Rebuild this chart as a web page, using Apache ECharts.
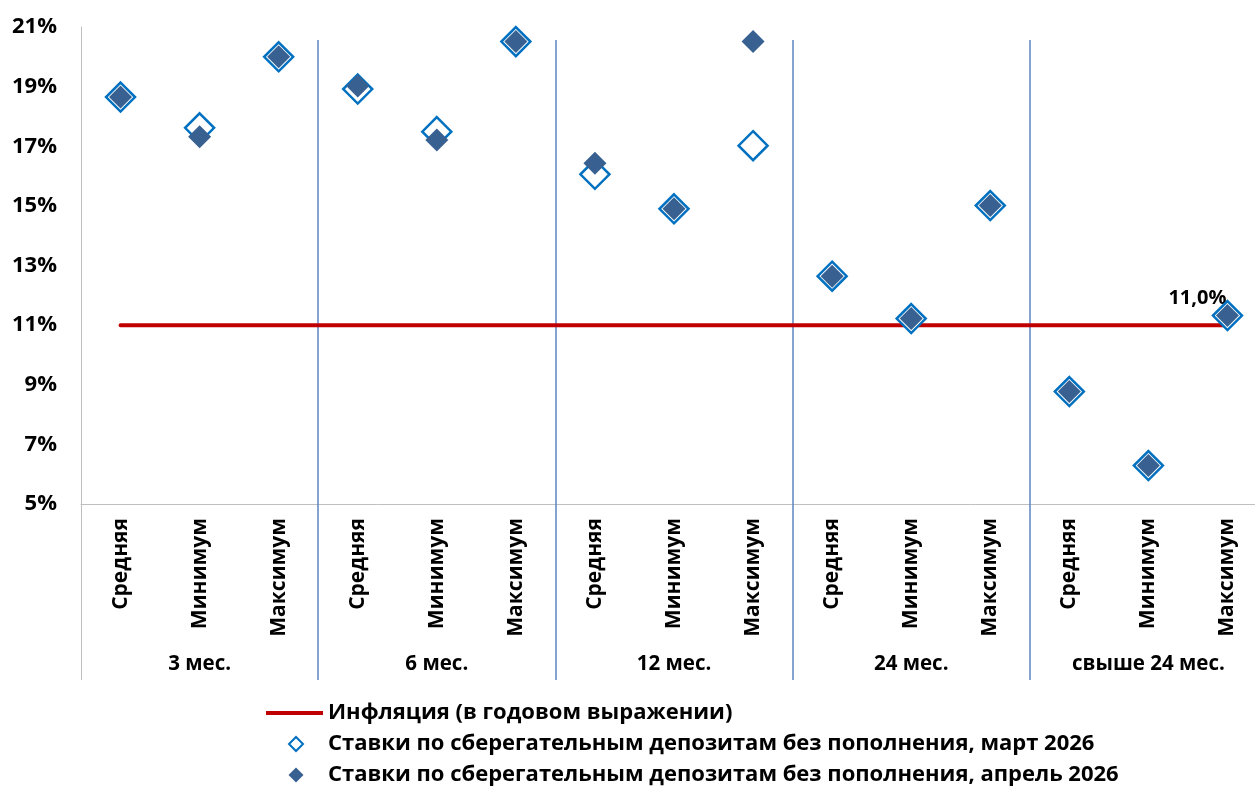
<!DOCTYPE html>
<html>
<head>
<meta charset="utf-8">
<script src="https://cdn.jsdelivr.net/npm/echarts@6/dist/echarts.min.js"></script>
<style>
  html, body { margin: 0; padding: 0; background: #fff; overflow: hidden; width: 1255px; height: 787px; }
  #chart { width: 1267px; height: 840px; }
</style>
</head>
<body>
<div id="chart"></div>
<script>
const categories = [
  'Средняя', 'Минимум', 'Максимум',
  'Средняя', 'Минимум', 'Максимум',
  'Средняя', 'Минимум', 'Максимум',
  'Средняя', 'Минимум', 'Максимум',
  'Средняя', 'Минимум', 'Максимум'
];
const groups = ['3 мес.', '6 мес.', '12 мес.', '24 мес.', 'свыше 24 мес.'];
const inflation = [11.0, 11.0, 11.0, 11.0, 11.0, 11.0, 11.0, 11.0, 11.0, 11.0, 11.0, 11.0, 11.0, 11.0, 11.0];
const march = [18.65, 17.62, 20.0, 18.92, 17.49, 20.51, 16.06, 14.90, 17.02, 12.64, 11.22, 15.01, 8.77, 6.29, 11.32];
const april = [18.65, 17.32, 20.0, 19.02, 17.21, 20.51, 16.43, 14.90, 20.51, 12.64, 11.22, 15.01, 8.77, 6.29, 11.32];
const yMin = 5, yMax = 21, yStep = 2;
const seriesNames = [
  'Инфляция (в годовом выражении)',
  'Ставки по сберегательным депозитам без пополнения, март 2026',
  'Ставки по сберегательным депозитам без пополнения, апрель 2026'
];

const FONT = 'Open Sans';
const chart = echarts.init(document.getElementById('chart'), null, { renderer: 'canvas' });

chart.setOption({
  backgroundColor: '#fff',
  animation: false,
  textStyle: { fontFamily: FONT },
  grid: { left: 81, top: 27, right: 0, height: 477 },
  legend: {
    orient: 'vertical',
    left: 265, top: 702,
    padding: 0,
    itemWidth: 57, itemHeight: 16, itemGap: 9,
    textStyle: { fontFamily: FONT, fontWeight: 'bold', fontSize: 22, color: '#000' },
    data: [
      { name: seriesNames[0], icon: 'path://M0,0 M57,16 M0,6 L57,6 L57,10 L0,10 Z' },
      { name: seriesNames[1], icon: 'path://M0,0 M57,16 M30,1 L37,8 L30,15 L23,8 Z' },
      { name: seriesNames[2], icon: 'path://M0,0 M57,16 M30,0.5 L37.5,8 L30,15.5 L22.5,8 Z' }
    ]
  },
  xAxis: [
    {
      type: 'category', data: categories, position: 'bottom',
      axisLine: { show: true, lineStyle: { color: '#BFBFBF', width: 1 } },
      axisTick: { show: true, interval: (i) => i === 0, length: 176, lineStyle: { color: '#BFBFBF', width: 1 } },
      axisLabel: { rotate: 90, margin: 14, fontFamily: FONT, fontWeight: 'bold', fontSize: 21, color: '#000', interval: 0 },
      splitLine: { show: false }
    },
    {
      type: 'category', data: groups, position: 'bottom', offset: 176,
      axisLine: { show: false },
      axisTick: { show: true, inside: true, length: 640, interval: (i) => i !== 0, lineStyle: { color: '#5B87C2', width: 1.5 } },
      axisLabel: { inside: true, margin: 5, fontFamily: FONT, fontWeight: 'bold', fontSize: 20.5, color: '#000', interval: 0 },
      splitLine: { show: false }
    }
  ],
  yAxis: {
    type: 'value', min: yMin, max: yMax, interval: yStep,
    axisLine: { show: true, lineStyle: { color: '#BFBFBF', width: 1 } },
    axisTick: { show: false },
    splitLine: { show: false },
    axisLabel: { formatter: '{value}%', margin: 24, fontFamily: FONT, fontWeight: 'bold', fontSize: 22, color: '#000' }
  },
  series: [
    {
      name: seriesNames[0], type: 'line', xAxisIndex: 0, data: inflation,
      symbol: 'none', color: '#C00000',
      lineStyle: { color: '#C00000', width: 4, cap: 'round' },
      endLabel: {
        show: true, distance: 0, align: 'right', verticalAlign: 'middle', offset: [-1, -27],
        formatter: (p) => Number(p.value).toFixed(1).replace('.', ',') + '%',
        fontFamily: FONT, fontWeight: 'bold', fontSize: 20, color: '#000'
      },
      z: 2
    },
    {
      name: seriesNames[1], type: 'scatter', xAxisIndex: 0, data: march,
      symbol: 'diamond', symbolSize: 29,
      itemStyle: { color: '#FFFFFF', borderColor: '#0070C0', borderWidth: 2.5, opacity: 1 },
      z: 3
    },
    {
      name: seriesNames[2], type: 'scatter', xAxisIndex: 0, data: april,
      symbol: 'diamond', symbolSize: 23,
      itemStyle: { color: '#386192', opacity: 1 },
      z: 4
    }
  ]
});
</script>
</body>
</html>
